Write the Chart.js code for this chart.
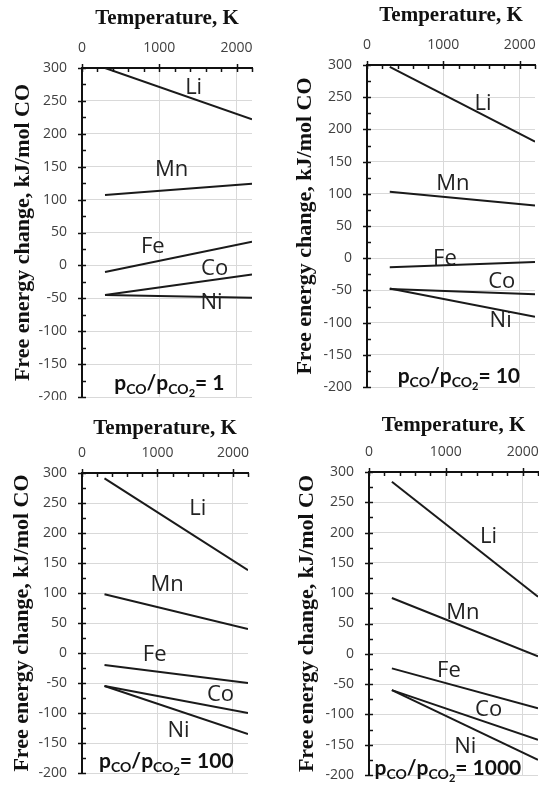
<!DOCTYPE html>
<html>
<head>
<meta charset="utf-8">
<script src="https://cdn.jsdelivr.net/npm/chart.js@4.4.1/dist/chart.umd.min.js"></script>
<style>
body { margin: 0; background: #fff; }
canvas { position: absolute; }
</style>
</head>
<body>
<canvas id="c1" width="270" height="400" style="left:0;top:0"></canvas>
<canvas id="c2" width="269" height="400" style="left:270px;top:0"></canvas>
<canvas id="c3" width="270" height="385" style="left:0;top:400px"></canvas>
<canvas id="c4" width="269" height="385" style="left:270px;top:400px"></canvas>
<script>
// data
const metals = ['Li', 'Mn', 'Fe', 'Co', 'Ni'];
const tempsK = [298, 2200];
const xTicks = [0, 1000, 2000];
const ratios = ['1', '10', '100', '1000'];
// free energy change (kJ/mol CO) at 298 K and at 2200 K
const startR1 = [300, 107, -10, -45, -45];
const endR1 = [222, 124, 36, -14, -49];
const startR10 = [297, 103, -14, -48, -47];
const endR10 = [181, 82, -6, -56, -91];
const startR100 = [291, 98, -20, -55, -55];
const endR100 = [138, 40, -50, -100, -135];
const startR1000 = [284, 92, -24, -60, -60];
const endR1000 = [94, -4, -90, -142, -175];

// layout: chart area box inside each canvas, title offsets, label spots (data coords)
const panels = [
    { id: 'c1', starts: startR1, ends: endR1, ratio: ratios[0],
      area: { left: 82, top: 68, right: 252, bottom: 397 }, xTitlePad: 6, yTitlePad: 10,
      spots: [[1445, 270], [1161, 145], [916, 28], [1716, -5], [1677, -57]], ratioSpot: [1131, -180] },
    { id: 'c2', starts: startR10, ends: endR10, ratio: ratios[1],
      area: { left: 97, top: 65, right: 265, bottom: 387 }, xTitlePad: 3, yTitlePad: 22,
      spots: [[1520, 240], [1125, 116], [1020, -1], [1765, -36], [1750, -97]], ratioSpot: [1203, -185] },
    { id: 'c3', starts: startR100, ends: endR100, ratio: ratios[2],
      area: { left: 82, top: 73, right: 248, bottom: 373 }, xTitlePad: 16, yTitlePad: 9,
      spots: [[1535, 240], [1128, 113], [963, -3], [1835, -70], [1280, -129]], ratioSpot: [1118, -181] },
    { id: 'c4', starts: startR1000, ends: endR1000, ratio: ratios[3],
      area: { left: 99, top: 72, right: 268, bottom: 375 }, xTitlePad: 13, yTitlePad: 24,
      spots: [[1555, 194], [1221, 67], [1041, -28], [1557, -92], [1253, -153]], ratioSpot: [1027, -190] }
];

let drawRatio = (ctx, cx, cy, ratio) => {
    const parts = [
        { t: 'p', f: 'bold 21px Lato', dy: 0 },
        { t: 'CO', f: 'bold 14px Lato', dy: 4 },
        { t: '/', f: 'bold 21px Lato', dy: 0 },
        { t: 'p', f: 'bold 21px Lato', dy: 0 },
        { t: 'CO', f: 'bold 14px Lato', dy: 4 },
        { t: '2', f: 'bold 11px Lato', dy: 7 },
        { t: '= ' + ratio, f: 'bold 21px Lato', dy: 0 }
    ];
    let total = 0;
    for (let p of parts) {
        ctx.font = p.f;
        p.w = ctx.measureText(p.t).width;
        total += p.w;
    }
    let x = cx - total / 2;
    ctx.fillStyle = '#111';
    ctx.textAlign = 'left';
    ctx.textBaseline = 'alphabetic';
    for (let p of parts) {
        ctx.font = p.f;
        ctx.fillText(p.t, x, cy + 6 + p.dy);
        x += p.w;
    }
}

let decorPlugin = {
    id: 'decor',
    afterDatasetsDraw(chart, args, opts) {
        const ctx = chart.ctx;
        const xs = chart.scales.x;
        const ys = chart.scales.y;
        const left = chart.chartArea.left;
        const top = chart.chartArea.top;
        ctx.save();
        ctx.strokeStyle = '#111';
        ctx.lineWidth = 1.5;
        // y ticks every 25
        for (let v = -200; v <= 300; v += 25) {
            const py = Math.round(ys.getPixelForValue(v)) + 0.5;
            ctx.beginPath();
            if (v % 50 === 0) { ctx.moveTo(left - 4, py); ctx.lineTo(left + 4, py); }
            else { ctx.moveTo(left, py); ctx.lineTo(left + 4, py); }
            ctx.stroke();
        }
        // x ticks every 200
        for (let v = 0; v <= 2200; v += 200) {
            const px = Math.round(xs.getPixelForValue(v)) + 0.5;
            ctx.beginPath();
            if (v % 1000 === 0) { ctx.moveTo(px, top - 4); ctx.lineTo(px, top + 4); }
            else { ctx.moveTo(px, top); ctx.lineTo(px, top + 4); }
            ctx.stroke();
        }
        // line labels
        ctx.fillStyle = '#222';
        ctx.font = '22px "Open Sans"';
        ctx.textAlign = 'center';
        ctx.textBaseline = 'middle';
        opts.spots.forEach((s, i) => {
            ctx.fillText(metals[i], xs.getPixelForValue(s[0]), ys.getPixelForValue(s[1]));
        });
        drawRatio(ctx, xs.getPixelForValue(opts.ratioSpot[0]), ys.getPixelForValue(opts.ratioSpot[1]), opts.ratio);
        ctx.restore();
    }
};

let makeChart = (p) => {
    const canvas = document.getElementById(p.id);
    const datasets = metals.map((m, i) => ({
        label: m,
        data: tempsK.map((t, j) => ({ x: t, y: j === 0 ? p.starts[i] : p.ends[i] })),
        borderColor: '#1a1a1a',
        borderWidth: 2,
        pointRadius: 0,
        showLine: true,
        fill: false
    }));
    return new Chart(canvas, {
        type: 'scatter',
        data: { datasets: datasets },
        plugins: [decorPlugin],
        options: {
            responsive: false,
            animation: false,
            devicePixelRatio: 1,
            layout: { padding: { left: 0, top: 0, right: canvas.width - p.area.right, bottom: canvas.height - p.area.bottom } },
            plugins: {
                legend: { display: false },
                tooltip: { enabled: false },
                decor: { spots: p.spots, ratioSpot: p.ratioSpot, ratio: p.ratio }
            },
            scales: {
                x: {
                    type: 'linear',
                    position: 'top',
                    min: 0,
                    max: 2200,
                    afterBuildTicks: (s) => { s.ticks = xTicks.map(v => ({ value: v })); },
                    afterFit: (s) => { s.height = p.area.top; s.paddingLeft = 0; s.paddingRight = 0; },
                    grid: { color: '#d9d9d9', drawTicks: false },
                    border: { color: '#111', width: 2 },
                    ticks: { padding: 12, color: '#404040', font: { family: 'Open Sans', size: 14 }, maxRotation: 0,
                             callback: (v) => String(v) },
                    title: { display: true, text: 'Temperature, K', color: '#111',
                             font: { family: 'Liberation Serif', size: 21, weight: 'bold' }, padding: { top: p.xTitlePad, bottom: 0 } }
                },
                y: {
                    min: -200,
                    max: 300,
                    afterFit: (s) => { s.width = p.area.left; s.paddingTop = 0; s.paddingBottom = 0; },
                    grid: { color: '#d9d9d9', drawTicks: false },
                    border: { color: '#111', width: 2 },
                    ticks: { stepSize: 50, padding: 15, color: '#404040', font: { family: 'Open Sans', size: 14 },
                             callback: (v) => String(v) },
                    title: { display: true, text: 'Free energy change, kJ/mol CO', color: '#111',
                             font: { family: 'Liberation Serif', size: 22, weight: 'bold' }, padding: { top: p.yTitlePad, bottom: 0 } }
                }
            }
        }
    });
}

panels.forEach(makeChart);
</script>
</body>
</html>
